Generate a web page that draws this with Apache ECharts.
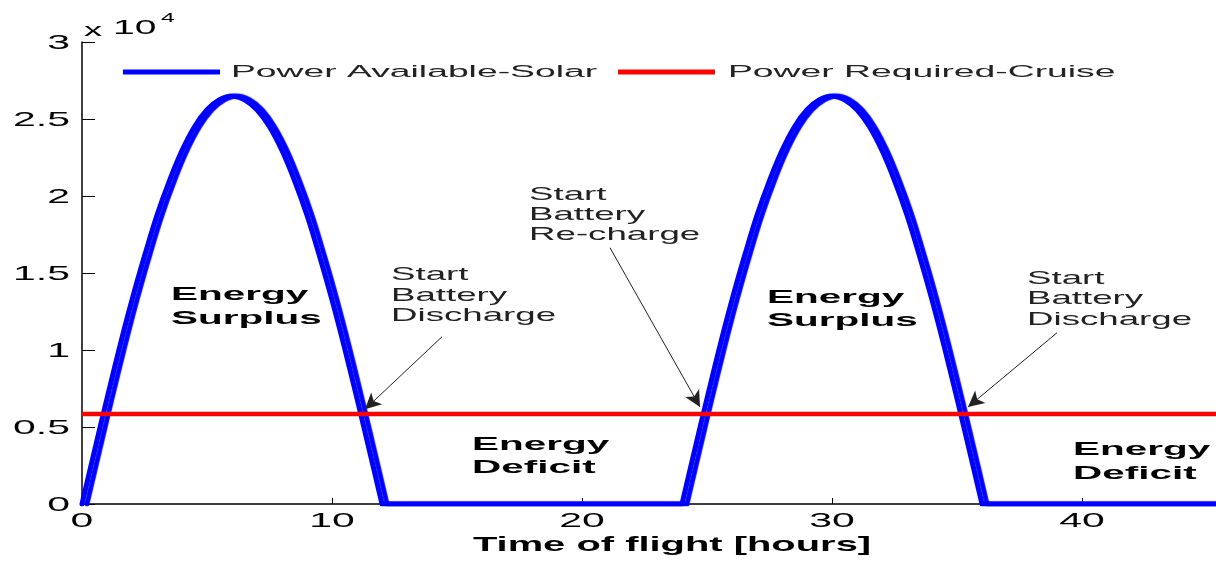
<!DOCTYPE html>
<html>
<head>
<meta charset="utf-8">
<script src="https://cdn.jsdelivr.net/npm/echarts@6/dist/echarts.min.js"></script>
<style>
html,body{margin:0;padding:0;background:#fff;}
#c{width:1216px;height:561px;}
</style>
</head>
<body>
<div id="c"></div>
<script>
// ---- data ----
// daylight arches (hours, W); night stretches are zero
const arch1Hours = [0,0.5,1,1.5,2,2.5,3,3.5,4,4.5,5,5.5,6,6.5,7,7.5,8,8.5,9,9.5,10,10.5,11,11.5,12];
const arch2Hours = [24,24.5,25,25.5,26,26.5,27,27.5,28,28.5,29,29.5,30,30.5,31,31.5,32,32.5,33,33.5,34,34.5,35,35.5,36];
const arch1Power = [0,3450,6850,10150,13250,16100,18750,21000,22950,24500,25600,26250,26500,26250,25600,24500,22950,21000,18750,16100,13250,10150,6850,3450,0];
const arch2Power = [0,3450,6850,10150,13250,16100,18750,21000,22950,24500,25600,26250,26500,26250,25600,24500,22950,21000,18750,16100,13250,10150,6850,3450,0];
const nightHours = [[12, 24], [36, 46]];
const nightPower = [[0, 0], [0, 0]];

const cruiseHours = [0, 46];
const cruisePower = [5850, 5850];

const xTickValues = [0, 10, 20, 30, 40];
const xTickLabels = ['0', '10', '20', '30', '40'];
const yTickValues = [0, 5000, 10000, 15000, 20000, 25000, 30000];
const yTickLabels = ['0', '0.5', '1', '1.5', '2', '2.5', '3'];

const seriesNames = ['Power Available-Solar', 'Power Required-Cruise'];
const axisTitle = 'Time of flight [hours]';

// annotation arrows in data units: tail -> tip
const arrowTails = [[14.4, 10860], [21.12, 16640], [39.0, 11120]];
const arrowTips  = [[11.32, 6150], [24.72, 6300], [35.44, 6300]];

const annotationLines = [
  ['Energy', 'Surplus'],
  ['Start', 'Battery', 'Discharge'],
  ['Start', 'Battery', 'Re-charge'],
  ['Energy', 'Surplus'],
  ['Start', 'Battery', 'Discharge'],
  ['Energy', 'Deficit'],
  ['Energy', 'Deficit']
];

// ---- build the solar polyline (pieces separated by null gaps) ----
const pairs = (hs, ps) => hs.map((h, i) => [h, ps[i]]);
const solarData = [].concat(
  pairs(arch1Hours, arch1Power), [null],
  pairs(nightHours[0], nightPower[0]), [null],
  pairs(arch2Hours, arch2Power), [null],
  pairs(nightHours[1], nightPower[1])
);

// ---- chart ----
const FONT = '"Liberation Sans", Arial, Helvetica, sans-serif';
const chart = echarts.init(document.getElementById('c'), null, {renderer: 'canvas'});

chart.setOption({
  animation: false,
  backgroundColor: '#ffffff',
  grid: {left: 82, right: 0, top: 42, bottom: 57, containLabel: false},
  xAxis: {
    type: 'value', min: 0, max: 45.36, interval: 10,
    axisLine: {show: true, onZero: false, lineStyle: {color: '#000', width: 1.5}},
    axisTick: {show: true, inside: true, length: 6, lineStyle: {color: '#000', width: 1}},
    axisLabel: {show: false},
    splitLine: {show: false}
  },
  yAxis: {
    type: 'value', min: 0, max: 30000, interval: 5000,
    axisLine: {show: true, lineStyle: {color: '#000', width: 1.5}},
    axisTick: {show: true, inside: true, length: 13, lineStyle: {color: '#000', width: 1}},
    axisLabel: {show: false},
    splitLine: {show: false}
  },
  series: [
    {
      name: seriesNames[0], type: 'line', symbol: 'none', z: 2,
      smooth: 0.4, connectNulls: false,
      data: solarData,
      lineStyle: {color: '#0000ff', width: 5, cap: 'round', join: 'round',
                  shadowColor: '#0000ff', shadowOffsetX: 5, shadowBlur: 1},
      emphasis: {disabled: true}
    },
    {
      name: seriesNames[1], type: 'line', symbol: 'none', z: 3,
      data: pairs(cruiseHours, cruisePower),
      lineStyle: {color: '#ff0000', width: 4.5},
      emphasis: {disabled: true},
      markLine: {
        silent: true, animation: false,
        symbol: ['none', 'arrow'], symbolSize: [12, 16],
        label: {show: false},
        lineStyle: {color: '#222', width: 1, type: 'solid'},
        emphasis: {disabled: true},
        data: arrowTails.map((t, i) => [{coord: t}, {coord: arrowTips[i]}])
      }
    }
  ]
});

// ---- texts (stretched horizontally like the reference) ----
function txt(str, x, y, size, sx, opts) {
  opts = opts || {};
  return {
    type: 'text', x: x, y: y, scaleX: sx, silent: true, z: 10,
    style: {
      text: str, x: 0, y: 0,
      font: (opts.bold ? 'bold ' : '') + size + 'px ' + FONT,
      fill: opts.fill || '#000',
      align: opts.align || 'left',
      verticalAlign: 'middle'
    }
  };
}
function seg(x1, x2, y, color, w) {
  return {type: 'line', silent: true, z: 10, shape: {x1: x1, y1: y, x2: x2, y2: y},
          style: {stroke: color, lineWidth: w}};
}

const g = [];
// tick labels placed through the axes' own scales
yTickValues.forEach((v, i) => {
  const py = chart.convertToPixel({yAxisIndex: 0}, v);
  g.push(txt(yTickLabels[i], 70, py + 1.5, 21, 1.95, {align: 'right'}));
});
xTickValues.forEach((v, i) => {
  const px = chart.convertToPixel({xAxisIndex: 0}, v);
  g.push(txt(xTickLabels[i], px, 521.5, 21, 1.95, {align: 'center'}));
});
// axis title
g.push(txt(axisTitle, 672, 545, 21, 1.9, {bold: true, align: 'center'}));
// exponent "x 10^4"
g.push(txt('x', 84, 31, 19, 1.9));
g.push(txt('10', 113, 28, 20, 1.95));
g.push(txt('4', 161, 18, 13, 1.9));
// legend
g.push(seg(123, 220, 72, '#0000ff', 5));
g.push(txt(seriesNames[0], 231, 72.5, 16, 2.33, {fill: '#222'}));
g.push(seg(618, 715, 72, '#ff0000', 5));
g.push(txt(seriesNames[1], 728, 72.5, 16, 2.33, {fill: '#222'}));

// annotation blocks
const annLayout = [
  {x: 171,  y: [295, 318.5],        bold: true},
  {x: 391,  y: [275, 295.5, 316]},
  {x: 529,  y: [195, 215, 235]},
  {x: 767,  y: [297.5, 321],        bold: true},
  {x: 1027, y: [278.5, 299, 320]},
  {x: 472,  y: [444.5, 467.5],      bold: true},
  {x: 1073, y: [450, 473.5],        bold: true}
];
annotationLines.forEach((lines, k) => {
  const L = annLayout[k];
  lines.forEach((s, j) => {
    if (L.bold) g.push(txt(s, L.x, L.y[j], 19, 2.13, {bold: true}));
    else g.push(txt(s, L.x, L.y[j], 19, 1.93, {fill: '#222'}));
  });
});

chart.setOption({graphic: {elements: g}});
</script>
</body>
</html>
